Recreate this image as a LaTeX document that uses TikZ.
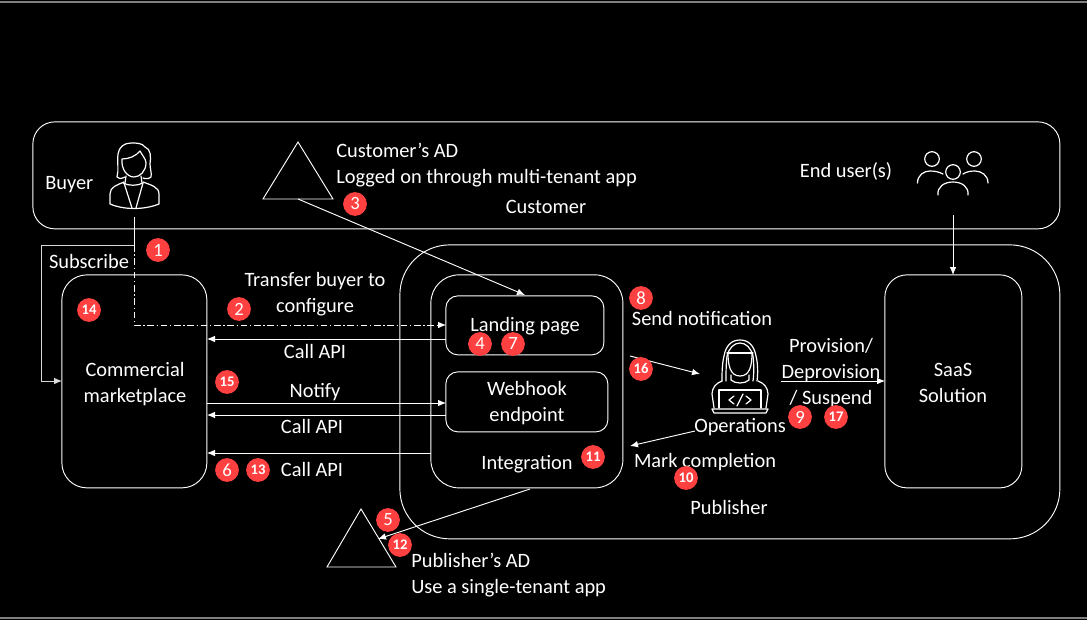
\documentclass[tikz,border=0pt]{standalone}
\usepackage{fontspec}
\setmainfont{Carlito}
\usetikzlibrary{arrows.meta}
\definecolor{badgered}{HTML}{FF4040}
\tikzset{
  x=0.75pt,y=-0.75pt,
  box/.style={draw=white,line width=0.7pt,rounded corners=#1,inner sep=0pt,anchor=north west},
  lbl/.style={text=white,font=\fontsize{15.3}{19.5}\selectfont,align=center,inner sep=0pt},
  lblleft/.style={lbl,align=left,anchor=west},
  badge/.style={circle,fill=badgered,text=white,inner sep=0pt,minimum size=17.8pt,font=\fontsize{14}{14}\selectfont},
  badgesm/.style={badge,font=\fontsize{11}{11}\selectfont\bfseries},
  conn/.style={draw=white,line width=0.7pt,-{Latex[length=6pt,width=5pt]}},
  plainconn/.style={draw=white,line width=0.7pt},
  dashconn/.style={conn,dash pattern=on 5pt off 2pt on 1pt off 2pt},
  triline/.style={draw=white,line width=0.7pt},
  icon/.style={draw=white,line width=0.9pt,line cap=round,line join=round},
}
\newcommand{\rbox}[7]{\node[box=#6*0.75pt,minimum width=#3*0.75pt,minimum height=#4*0.75pt,#7] (#5) at ({#1-0.6},{#2-0.6}) {};}
\begin{document}
\begin{tikzpicture}
\fill[black] (0,0) rectangle (1087,620);
\useasboundingbox (0,0) rectangle (1087,620);
\draw[draw=gray,line width=0.9pt] (0,2) -- (1087,2);
\draw[draw=gray,line width=0.9pt] (0,618) -- (1087,618);

% containers
\rbox{33}{122}{1027}{107}{customer}{22}{}
\rbox{400}{245}{660}{294}{publisher}{50}{}
\rbox{62}{275}{145}{213}{market}{25}{}
\rbox{431}{275}{192}{213}{integ}{28}{}
\rbox{446}{296}{158}{59}{landing}{12}{}
\rbox{446}{372}{162}{60}{webhook}{12}{}
\rbox{885}{275}{137}{213}{saas}{22}{}

% triangles
\coordinate (ca) at (298,142); \coordinate (cl) at (263,199); \coordinate (cr) at (333,199);
\coordinate (pa) at (361,509); \coordinate (pl) at (327,567); \coordinate (pr) at (396,567);
\draw[triline] (ca) -- (cl) -- (cr) -- cycle;
\draw[triline] (pa) -- (pl) -- (pr) -- cycle;

% connector ends
\coordinate (buyerfoot) at (134,217);
\coordinate (branch) at (134,245);
\coordinate (leftturn) at (41,245);
\coordinate (leftdown) at (41,381);
\coordinate (mkL) at (62,381);
\coordinate (dashturn) at (134,325);
\coordinate (landL) at (446,325);
\coordinate (cabase) at (298,199);
\coordinate (landT) at (525,295);
\coordinate (cA1) at (446,339); \coordinate (mA1) at (207,339);
\coordinate (mN) at (207,403); \coordinate (wN) at (446,403);
\coordinate (wA) at (446,415); \coordinate (mA2) at (207,415);
\coordinate (iA) at (431,453); \coordinate (mA3) at (207,453);
\coordinate (iB) at (530,489); \coordinate (pT) at (378,539);
\coordinate (nS) at (630,356); \coordinate (nE) at (700,374);
\coordinate (oS) at (695,431); \coordinate (oE) at (630,446);
\coordinate (prS) at (781,381); \coordinate (prE) at (885,381);
\coordinate (uS) at (953,215); \coordinate (uE) at (953,275);

% connectors
\draw[plainconn] (buyerfoot) -- (branch);
\draw[conn,draw=white!85!black] (branch) -- (leftturn) -- (leftdown) -- (mkL);
\draw[dashconn] (branch) -- (dashturn) -- (landL);
\draw[conn] (cabase) -- (landT);
\draw[conn] (cA1) -- (mA1);
\draw[conn] (mN) -- (wN);
\draw[conn] (wA) -- (mA2);
\draw[conn] (iA) -- (mA3);
\draw[conn] (iB) -- (pT);
\draw[conn] (nS) -- (nE);
\draw[conn] (oS) -- (oE);
\draw[conn] (prS) -- (prE);
\draw[conn] (uS) -- (uE);

% Buyer icon
\begin{scope}[shift={(109,142)}]
\draw[icon] (16,35) .. controls (12,37) and (9,37) .. (8,35) .. controls (10,28) and (8,20) .. (9,12) .. controls (10,5) and (15,1) .. (22,1) .. controls (28,1) and (33,1) .. (36,5) .. controls (42,7) and (42,15) .. (41,22) .. controls (41,27) and (43,31) .. (42,35) .. controls (40,37) and (36,37) .. (34,36);
\draw[icon] (13,17) .. controls (20,17) and (27,14) .. (31,9) .. controls (33,13) and (37,17) .. (37,21) .. controls (37,29) and (31,35) .. (25,35) .. controls (18,35) and (12,27) .. (13,17) -- cycle;
\draw[icon] (14,41) .. controls (20,44) and (28,44) .. (34,41);
\draw[icon] (17,34) -- (16,41); \draw[icon] (32,34) -- (33,41);
\draw[icon] (15,40) .. controls (8,43) and (1,45) .. (1,52) -- (1,62) .. controls (15,68) and (35,68) .. (50,62) -- (50,52) .. controls (50,45) and (42,43) .. (34,40);
\draw[icon] (15,41) -- (23,66); \draw[icon] (34,41) -- (27,66);
\end{scope}

% End users icon
\begin{scope}[shift={(917,152)}]
\draw[icon] (15,7) circle (7.3);
\draw[icon] (57,7) circle (7.3);
\draw[icon] (36,20) circle (7.3);
\draw[icon] (0.5,31) .. controls (0.5,23) and (7,19) .. (13,19) .. controls (18,19) and (22,20) .. (26,22);
\draw[icon] (71,31) .. controls (71,23) and (64,19) .. (58,19) .. controls (53,19) and (49,20) .. (46,22);
\draw[icon] (21,43) .. controls (20,35) and (27,30) .. (36,30) .. controls (45,30) and (52,35) .. (51,43);
\end{scope}

% Operations icon
\begin{scope}[shift={(712,339)}]
\draw[icon] (10,42) .. controls (10,35) and (10,25) .. (12,17) .. controls (14,6) and (20,1) .. (28,1) .. controls (36,1) and (42,6) .. (44,17) .. controls (46,25) and (46,35) .. (45,42);
\draw[icon] (14,42) .. controls (14,35) and (14,25) .. (15,17) .. controls (17,9) and (22,4) .. (28,4) .. controls (34,4) and (39,9) .. (41,17) .. controls (42,25) and (42,35) .. (41,42);
\draw[icon] (15,14) -- (41,14);
\draw[icon] (16,14) .. controls (16,26) and (18,37) .. (28,37) .. controls (38,37) and (40,26) .. (40,14);
\draw[icon] (19,36) -- (19,41) .. controls (23,45) and (33,45) .. (37,41) -- (37,36);
\draw[icon] (10,42) .. controls (4,44) and (0,49) .. (0,55) -- (2,69);
\draw[icon] (46,42) .. controls (52,44) and (56,49) .. (56,55) -- (54,69);
\draw[icon] (7,69) -- (7,51) -- (49,51) -- (49,69);
\draw[icon] (0,70) -- (2,74) -- (54,74) -- (56,70) -- cycle;
\draw[icon] (22,57) -- (17,61) -- (22,65);
\draw[icon] (34,57) -- (39,61) -- (34,65);
\draw[icon] (31,55) -- (25,67);
\end{scope}

% labels
\node[lblleft] (tbuyer) at (45,185) {Buyer};
\node[lblleft] (tca) at (336,165) {Customer’s AD\\Logged on through multi-tenant app};
\node[lbl] (tcust) at (546,207) {Customer};
\node[lbl] (tusers) at (846,171) {End user(s)};
\node[lbl] (tsub) at (89,261) {Subscribe};
\node[lbl] (ttrans) at (315,294) {Transfer buyer to\\configure};
\node[lbl] (tmk) at (135,384) {Commercial\\marketplace};
\node[lbl] (tland) at (525,326) {Landing page};
\node[lbl] (twh) at (527,403) {Webhook\\endpoint};
\node[lbl] (tapi1) at (315,351) {Call API};
\node[lbl] (tnot) at (315,392) {Notify};
\node[lbl] (tapi2) at (312,426) {Call API};
\node[lbl] (tapi3) at (312,469) {Call API};
\node[lbl] (tint) at (527,464) {Integration};
\node[lbl] (tsend) at (702,318) {Send notification};
\node[lbl] (tprov) at (831,373) {Provision/\\Deprovision\\/ Suspend};
\node[lbl] (tops) at (740,427) {Operations};
\node[lbl] (tmark) at (705,462) {Mark completion};
\node[lbl] (tpub) at (729,507) {Publisher};
\node[lblleft] (tpa) at (411,575) {Publisher’s AD\\Use a single-tenant app};
\node[lbl] (tsaas) at (953,383) {SaaS\\Solution};

% badges
\node[badge] (b1) at (158,250) {1};
\node[badge] (b2) at (239,309) {2};
\node[badge] (b3) at (355,204) {3};
\node[badge] (b4) at (480,344) {4};
\node[badge] (b5) at (388,520) {5};
\node[badge] (b6) at (227,470) {6};
\node[badge] (b7) at (513,344) {7};
\node[badge] (b8) at (641,298) {8};
\node[badge] (b9) at (800,417) {9};
\node[badgesm] (b10) at (686,478) {10};
\node[badgesm] (b11) at (593,457) {11};
\node[badgesm] (b12) at (400,545) {12};
\node[badgesm] (b13) at (258,470) {13};
\node[badgesm] (b14) at (89,310) {14};
\node[badgesm] (b15) at (227,382) {15};
\node[badgesm] (b16) at (641,369) {16};
\node[badgesm] (b17) at (836,417) {17};
\end{tikzpicture}
\end{document}
